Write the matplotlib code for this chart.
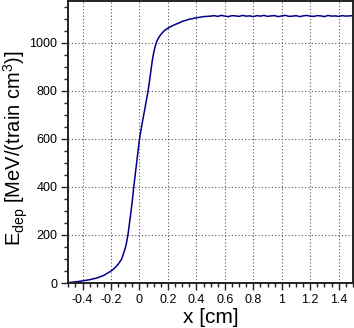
import matplotlib
matplotlib.use("Agg")
import matplotlib.pyplot as plt
from matplotlib.ticker import MultipleLocator


# -----------------------------
# Data
# -----------------------------

x_rise = [-0.5, -0.45, -0.4, -0.35, -0.3, -0.25, -0.2, -0.175, -0.15, -0.125,
          -0.1, -0.09, -0.08, -0.07, -0.06, -0.05, -0.04, -0.03, -0.02, -0.01,
          0.0, 0.01, 0.02, 0.04, 0.06, 0.07, 0.08, 0.09, 0.1, 0.11, 0.12,
          0.13, 0.15, 0.175, 0.2, 0.225, 0.25, 0.275, 0.3, 0.35, 0.4,
          0.45, 0.5]
e_rise = [2, 5, 9, 14, 21, 32, 50, 62, 78, 100,
          145, 170, 205, 250, 295, 345, 400, 450, 500, 550,
          598, 635, 668, 732, 797, 838, 882, 925, 958, 983, 1002,
          1016, 1034, 1050, 1060, 1068, 1075, 1081, 1088, 1097, 1103,
          1108, 1110]

x_plateau = [0.525, 0.55, 0.575, 0.6, 0.625, 0.65, 0.675, 0.7, 0.725, 0.75,
             0.775, 0.8, 0.825, 0.85, 0.875, 0.9, 0.925, 0.95, 0.975, 1.0,
             1.025, 1.05, 1.075, 1.1, 1.125, 1.15, 1.175, 1.2, 1.225, 1.25,
             1.275, 1.3, 1.325, 1.35, 1.375, 1.4, 1.425, 1.45, 1.475, 1.5]
e_plateau = [1112, 1109, 1113, 1110, 1108, 1112, 1111, 1109, 1113, 1110,
             1111, 1108, 1112, 1110, 1113, 1109, 1111, 1112, 1108, 1111,
             1113, 1109, 1110, 1112, 1108, 1111, 1113, 1110, 1109, 1112,
             1111, 1108, 1113, 1110, 1111, 1109, 1112, 1110, 1111, 1112]

x_vals = x_rise + x_plateau
e_vals = e_rise + e_plateau

x_ticks = [-0.4, -0.2, 0, 0.2, 0.4, 0.6, 0.8, 1.0, 1.2, 1.4]
x_tick_labels = ['-0.4', '-0.2', '0', '0.2', '0.4', '0.6', '0.8', '1', '1.2', '1.4']


# -----------------------------
# Style
# -----------------------------

plt.rcParams['font.family'] = ['Liberation Sans', 'DejaVu Sans']
plt.rcParams['mathtext.fontset'] = 'custom'
plt.rcParams['mathtext.rm'] = 'Liberation Sans'
plt.rcParams['mathtext.it'] = 'Liberation Sans'

fig = plt.figure(figsize=(3.54, 3.28), dpi=100)
ax = fig.add_axes([0.193, 0.137, 0.804, 0.860])

ax.plot(x_vals, e_vals, color='#00008b', linewidth=1.1)

ax.set_xlim(-0.5, 1.5)
ax.set_ylim(0, 1173)

ax.set_xticks(x_ticks)
ax.set_xticklabels(x_tick_labels)
ax.xaxis.set_minor_locator(MultipleLocator(0.05))
ax.yaxis.set_major_locator(MultipleLocator(200))
ax.yaxis.set_minor_locator(MultipleLocator(50))

ax.tick_params(which='major', direction='out', length=5, width=1, labelsize=9,
               color='#222222', pad=3)
ax.tick_params(which='minor', direction='out', length=3, width=1, color='#222222')

ax.grid(True, which='major', color='#555555', linestyle=(0, (1, 2)), linewidth=0.8)

for s in ax.spines.values():
    s.set_color('#222222')
    s.set_linewidth(1.4)

ax.set_xlabel('x [cm]', fontsize=15, labelpad=1)

# y label placed by hand so it sits like the reference
fig.text(16 / 354, 1 - 148 / 328, r'E$_{\rm dep}$ [MeV/(train cm$^{3}$)]',
         fontsize=14.5, rotation=90, ha='center', va='center')

fig.savefig('out.png', dpi=100)
